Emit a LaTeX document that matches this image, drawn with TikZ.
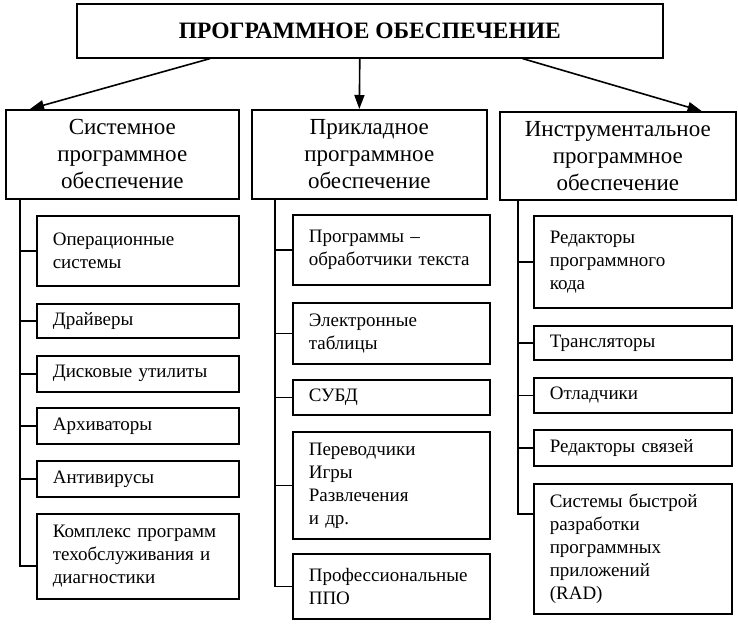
\documentclass[tikz,border=0pt]{standalone}
\usepackage{fontspec}
\setmainfont{Liberation Serif}
\usetikzlibrary{arrows.meta}
\begin{document}
\begin{tikzpicture}[x=1pt,y=-1pt,
  box/.style={draw, line width=1.6pt, inner sep=0pt, anchor=north west},
  topbox/.style={box, font=\fontsize{23.5}{27}\selectfont\bfseries},
  midbox/.style={box, align=center, font=\fontsize{23}{27}\selectfont},
  subA/.style={box, text width=170pt, inner xsep=16pt, align=left, font=\fontsize{19}{23}\selectfont},
  subB/.style={box, text width=165pt, inner xsep=16pt, align=left, font=\fontsize{19}{23}\selectfont},
  subC/.style={box, text width=166pt, inner xsep=16pt, align=left, font=\fontsize{19}{23}\selectfont},
  conn/.style={line width=1.6pt},
  arr/.style={line width=1.6pt, -{Triangle[length=14pt,width=10pt]}}]
\fill[white] (0,0) rectangle (738,624);
\useasboundingbox (0,0) rectangle (738,624);

\node[topbox, minimum width=586, minimum height=54] (top) at (76,3) {ПРОГРАММНОЕ ОБЕСПЕЧЕНИЕ};

\node[midbox, minimum width=233, minimum height=89] (sys) at (5,109) {Системное\\программное\\обеспечение};
\node[midbox, minimum width=235, minimum height=89] (app) at (251,109) {Прикладное\\программное\\обеспечение};
\node[midbox, minimum width=236, minimum height=88] (ins) at (499,111) {Инструментальное\\программное\\обеспечение};

\draw[arr] ([xshift=134pt]top.south west) -- ([xshift=25pt]sys.north west);
\draw[arr] ([xshift=-10pt]top.south) -- ([xshift=-10pt]app.north);
\draw[arr] ([xshift=-141pt]top.south east) -- ([xshift=-35pt]ins.north east);

% column 1
\node[subA, minimum height=70] (s11) at (36,215) {Операционные\\системы};
\node[subA, minimum height=34] (s12) at (36,303) {Драйверы};
\node[subA, minimum height=36] (s13) at (36,355) {Дисковые~утилиты};
\node[subA, minimum height=36] (s14) at (36,407) {Архиваторы};
\node[subA, minimum height=36] (s15) at (36,460) {Антивирусы};
\node[subA, minimum height=85] (s16) at (36,513) {Комплекс~программ\\техобслуживания~и\\диагностики};

% column 2
\node[subB, minimum height=70] (s21) at (292,214) {Программы~–\\обработчики~текста};
\node[subB, minimum height=61] (s22) at (292,302) {Электронные\\таблицы};
\node[subB, minimum height=35] (s23) at (292,379) {СУБД};
\node[subB, minimum height=107] (s24) at (292,431) {Переводчики\\Игры\\Развлечения\\и~др.};
\node[subB, minimum height=65] (s25) at (292,553) {Профессиональные\\ППО};

% column 3
\node[subC, minimum height=92] (s31) at (533,215) {Редакторы\\программного\\кода};
\node[subC, minimum height=34] (s32) at (533,325) {Трансляторы};
\node[subC, minimum height=35] (s33) at (533,377) {Отладчики};
\node[subC, minimum height=36] (s34) at (533,429) {Редакторы~связей};
\node[subC, minimum height=130] (s35) at (533,483) {Системы~быстрой\\разработки\\программных\\приложений\\(RAD)};

\coordinate (t1) at (20,0);
\coordinate (t2) at (275,0);
\coordinate (t3) at (518,0);

\draw[conn] (t1 |- sys.south) |- ([yshift=-9.5pt]s16.west);
\foreach \n in {s11,s12,s13,s14,s15} \draw[conn] (\n.west) -- (\n.west -| t1);

\draw[conn] (t2 |- app.south) |- (s25.west);
\foreach \n in {s21,s22,s23,s24} \draw[conn] (\n.west) -- (\n.west -| t2);

\draw[conn] (t3 |- ins.south) |- ([yshift=35pt]s35.west);
\foreach \n in {s31,s32,s33,s34} \draw[conn] (\n.west) -- (\n.west -| t3);
\end{tikzpicture}
\end{document}
